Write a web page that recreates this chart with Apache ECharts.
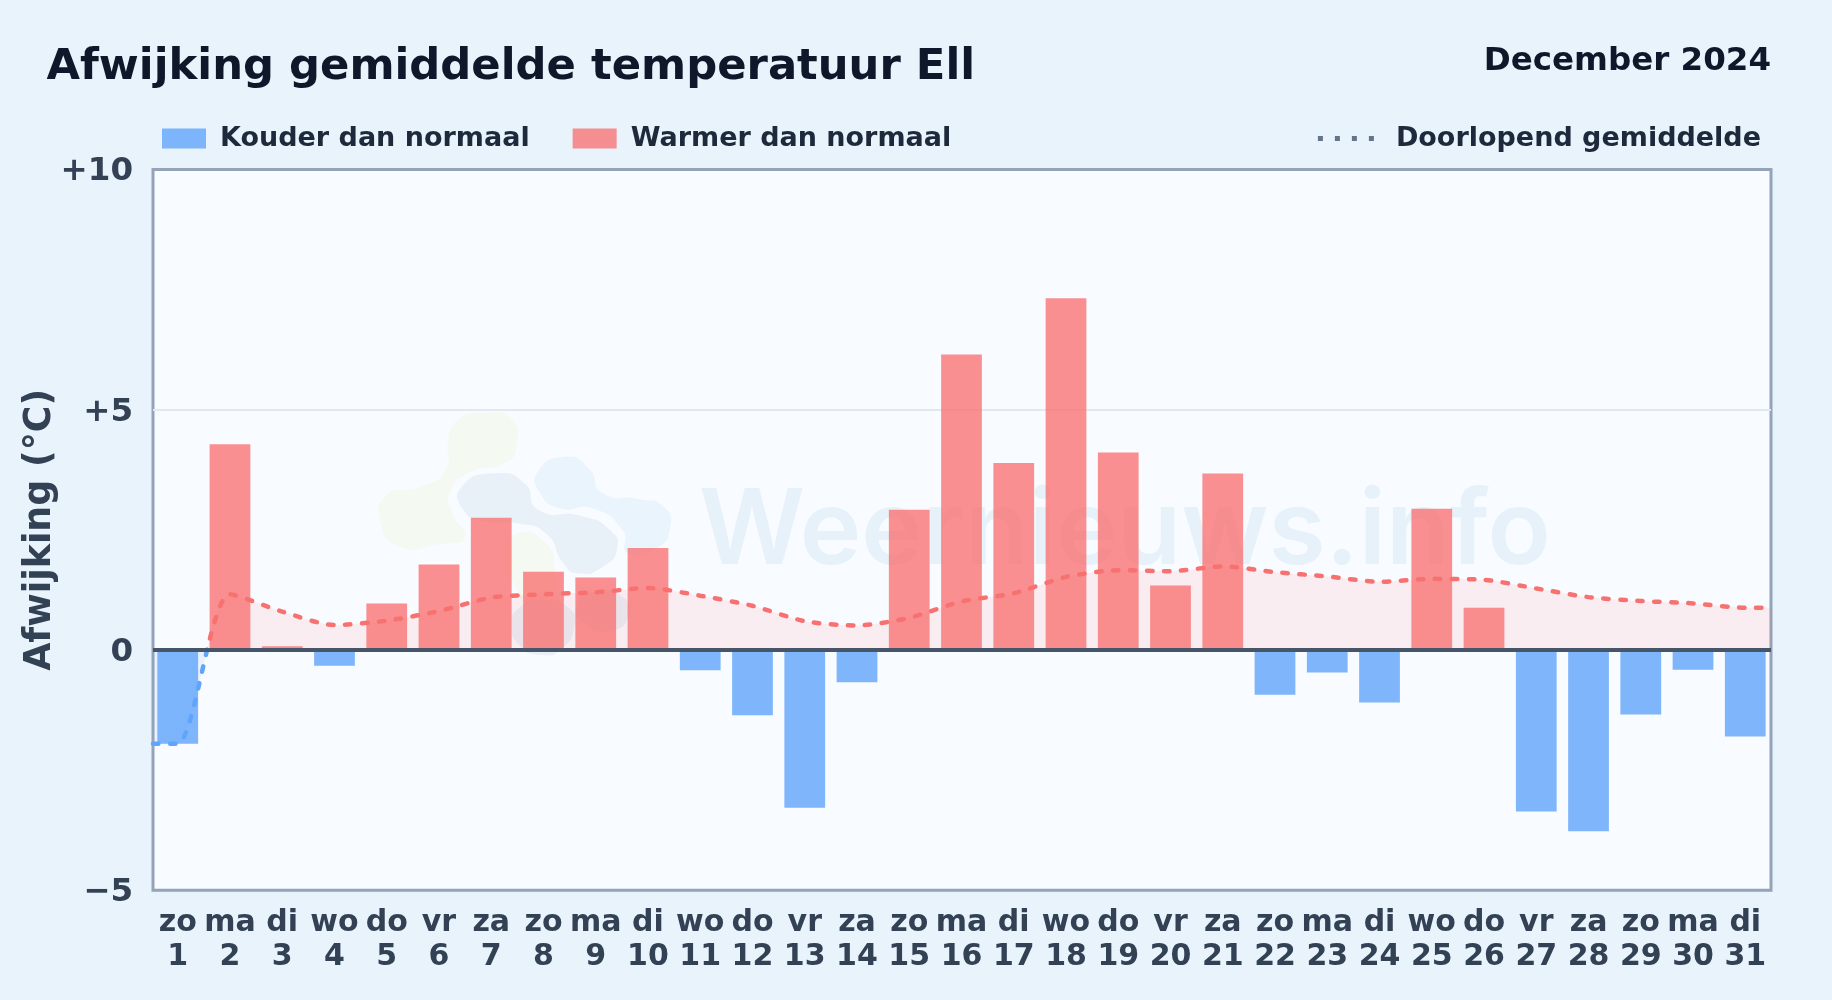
<!DOCTYPE html>
<html><head><meta charset="utf-8">
<style>html,body{margin:0;padding:0;width:1832px;height:1000px;overflow:hidden;background:#e8f3fc}#c{width:1832px;height:1000px}</style>
<script src="https://cdn.jsdelivr.net/npm/echarts@6/dist/echarts.min.js"></script>
</head><body><div id="c"></div>
<script>
const weekdays=['zo','ma','di','wo','do','vr','za','zo','ma','di','wo','do','vr','za','zo','ma','di','wo','do','vr','za','zo','ma','di','wo','do','vr','za','zo','ma','di'];
const dates=[1,2,3,4,5,6,7,8,9,10,11,12,13,14,15,16,17,18,19,20,21,22,23,24,25,26,27,28,29,30,31];
const colder=[-1.95,null,null,-0.33,null,null,null,null,null,null,-0.42,-1.36,-3.28,-0.67,null,null,null,null,null,null,null,-0.93,-0.47,-1.09,null,null,-3.36,-3.77,-1.34,-0.41,-1.8];
const warmer=[null,4.28,0.08,null,0.97,1.78,2.75,1.63,1.51,2.12,null,null,null,null,2.92,6.15,3.89,7.32,4.11,1.34,3.67,null,null,null,2.94,0.88,null,null,null,null,null];
const runningX=[0.53,1,2,3,4,5,6,7,8,9,10,11,12,13,14,15,16,17,18,19,20,21,22,23,24,25,26,27,28,29,30,31,31.49];
const runningMean=[-1.95,-1.95,1.16,0.80,0.52,0.61,0.81,1.09,1.16,1.20,1.29,1.13,0.92,0.60,0.51,0.67,1.01,1.18,1.52,1.66,1.64,1.74,1.62,1.53,1.42,1.48,1.46,1.28,1.10,1.02,0.97,0.88,0.88];
const titleText='Afwijking gemiddelde temperatuur Ell';
const periodText='December 2024';
const watermarkText='Weernieuws.info';
const F='"DejaVu Sans"';
const chart=echarts.init(document.getElementById('c'));
const blob=(points,fill)=>({type:'polygon',shape:{points,smooth:0.6},style:{fill},silent:true});
const hi=Math.max(...runningMean),lo=Math.min(...runningMean),zeroAt=hi/(hi-lo);
const split=(up,down)=>({type:'linear',x:0,y:0,x2:0,y2:1,colorStops:[{offset:0,color:up},{offset:zeroAt,color:up},{offset:zeroAt,color:down},{offset:1,color:down}]});
chart.setOption({
 animation:false,
 backgroundColor:'#e8f3fc',
 title:[
  {text:titleText,left:46.5,top:46,padding:0,textStyle:{fontFamily:F,fontWeight:'bold',fontSize:43.3,color:'#0f172a'}},
  {text:periodText,right:61,top:45,padding:0,textStyle:{fontFamily:F,fontWeight:'bold',fontSize:32.5,color:'#0f172a'}}
 ],
 legend:[
  {data:['Kouder dan normaal','Warmer dan normaal'],icon:'rect',left:162,top:125,padding:0,itemWidth:44,itemHeight:20,itemGap:43,selectedMode:false,
   textStyle:{fontFamily:F,fontWeight:'bold',fontSize:27,color:'#1e293b',padding:[0,0,0,9]}},
  {data:[{name:'Doorlopend gemiddelde',icon:'path://M0,0h5v5h-5zM17,0h5v5h-5zM34,0h5v5h-5zM51,0h5v5h-5z',itemStyle:{color:'#64748b'}}],right:71,top:125,padding:0,itemWidth:56,itemHeight:5,selectedMode:false,
   textStyle:{fontFamily:F,fontWeight:'bold',fontSize:27,color:'#1e293b',padding:[0,0,0,17]}}
 ],
 grid:[
  {left:153,right:61,top:169.4,bottom:109.7,show:true,backgroundColor:'#f8fbff',borderColor:'#94a3b8',borderWidth:3},
  {left:151.6,right:60.6,top:169.4,bottom:109.7}
 ],
 xAxis:[
  {type:'value',gridIndex:0,min:0.53,max:31.49,show:false,splitLine:{show:false}},
  {type:'category',gridIndex:1,data:weekdays.map((d,i)=>d+'\n'+dates[i]),axisLine:{show:false},axisTick:{show:false},splitLine:{show:false},
   axisLabel:{interval:0,margin:16,lineHeight:34,fontFamily:F,fontWeight:'bold',fontSize:30,color:'#334155'}}
 ],
 yAxis:[
  {type:'value',gridIndex:0,min:-5,max:10,interval:5,name:'Afwijking (°C)',nameLocation:'middle',nameGap:94,nameMoveOverlap:false,
  nameTextStyle:{fontFamily:F,fontWeight:'bold',fontSize:36.4,color:'#334155'},
  axisLine:{show:false},axisTick:{show:false},splitLine:{showMinLine:false,showMaxLine:false,lineStyle:{color:'#e2e8f0',width:2}},
  axisLabel:{margin:20,verticalAlign:'top',padding:[-14,0,0,0],fontFamily:F,fontWeight:'bold',fontSize:32.5,color:'#334155',formatter:v=>v>0?'+'+v:(v<0?'\u2212'+(-v):'0')}},
  {type:'value',gridIndex:1,min:-5,max:10,interval:5,show:false,splitLine:{show:false}}
 ],
 series:[
  {name:'Kouder dan normaal',type:'bar',xAxisIndex:1,yAxisIndex:1,stack:'d',barWidth:'78%',data:colder,itemStyle:{color:'rgba(96,165,250,0.8)'},z:2},
  {name:'Warmer dan normaal',type:'bar',xAxisIndex:1,yAxisIndex:1,stack:'d',barWidth:'78%',data:warmer,itemStyle:{color:'rgba(248,113,113,0.78)'},z:2},
  {name:'Doorlopend gemiddelde',type:'line',xAxisIndex:0,yAxisIndex:0,data:runningX.map((x,i)=>[x,runningMean[i]]),smooth:0.25,showSymbol:false,symbol:'none',
   lineStyle:{width:4.5,type:[5.5,11.5],cap:'round',color:split('#f87171','#60a5fa')},
   areaStyle:{color:split('rgba(248,113,113,0.15)','rgba(96,165,250,0.15)')},z:4,
   markLine:{silent:true,symbol:'none',label:{show:false},lineStyle:{color:'#475569',width:4,type:'solid'},data:[{yAxis:0}],animation:false}}
 ],
 graphic:[
  {type:'group',silent:true,z:0,children:[
   {type:'group',x:360,y:390,scaleX:1/2.8,scaleY:1/3,children:[
    blob([[340,70],[420,85],[438,170],[400,222],[310,245],[255,300],[258,370],[295,440],[225,462],[110,470],[58,400],[75,315],[170,290],[240,240],[247,150],[275,90]],'#f4f9f2'),
    blob([[440,430],[510,450],[545,530],[530,620],[480,650],[430,580],[405,490]],'#f4f9f2'),
    blob([[575,200],[640,235],[680,310],[780,327],[850,350],[868,415],[830,475],[750,490],[735,420],[650,355],[560,355],[505,310],[498,245]],'#e9f4fd'),
    blob([[380,250],[460,280],[500,360],[620,378],[700,420],[720,475],[680,530],[610,550],[570,520],[520,430],[440,400],[350,395],[290,360],[285,290]],'#e8f0f8'),
    blob([[660,600],[740,625],[752,680],[700,722],[630,700],[605,650]],'#e8f0f8'),
    blob([[500,630],[580,650],[600,710],[560,780],[510,795],[450,770],[425,700],[450,650]],'#e8f0f8')
   ]},
   {type:'text',x:699,y:533,style:{text:watermarkText,fontFamily:'Inter',fontWeight:600,fontSize:104,fill:'#e7f1fa',verticalAlign:'middle'}}
  ]}
 ]
});
</script></body></html>
